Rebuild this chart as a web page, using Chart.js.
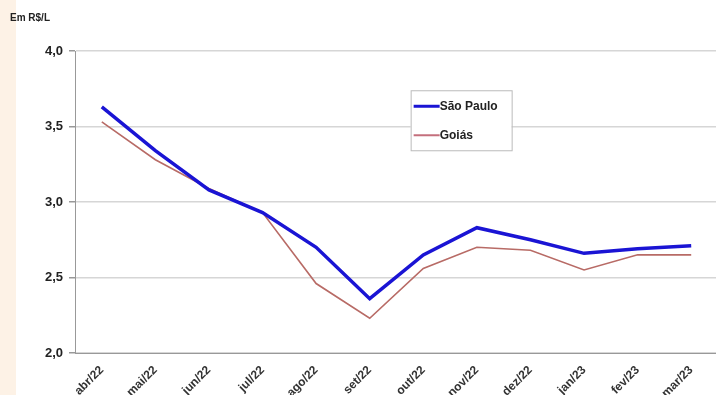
<!DOCTYPE html>
<html>
<head>
<meta charset="utf-8">
<script src="https://cdn.jsdelivr.net/npm/chart.js@4.4.0/dist/chart.umd.min.js"></script>
<style>
  html, body { margin: 0; padding: 0; background: #fff; overflow: hidden; }
  #wrap { position: relative; width: 722px; height: 425px; background: linear-gradient(to right, #fdf2e6 0px, #fdf2e6 16px, #ffffff 16px); }
  #unit { position: absolute; left: 10px; top: 12px; font: bold 10px "Liberation Sans", Arial, sans-serif; color: #222; }
</style>
</head>
<body>
<div id="wrap">
  <div id="unit">Em R$/L</div>
  <canvas id="lineChart" width="722" height="425"></canvas>
</div>
<script>
const months = ['abr/22', 'mai/22', 'jun/22', 'jul/22', 'ago/22', 'set/22', 'out/22', 'nov/22', 'dez/22', 'jan/23', 'fev/23', 'mar/23'];
const saoPaulo = [3.63, 3.34, 3.08, 2.93, 2.70, 2.36, 2.65, 2.83, 2.75, 2.66, 2.69, 2.71];
const goias = [3.53, 3.28, 3.09, 2.93, 2.46, 2.23, 2.56, 2.70, 2.68, 2.55, 2.65, 2.65];
const yTicks = [2.0, 2.5, 3.0, 3.5, 4.0];

// legend box drawn inside the plot area, like the original spreadsheet chart
const boxLegend = {
  id: 'boxLegend',
  afterDraw(chart) {
    const ctx = chart.ctx;
    const a = chart.chartArea;
    const x = a.left + (a.right - a.left) * 0.522;
    const y = a.top + (a.bottom - a.top) * 0.13;
    const w = 101, h = 60;
    ctx.save();
    ctx.fillStyle = '#fff';
    ctx.fillRect(x, y, w, h);
    ctx.strokeStyle = '#bbb';
    ctx.lineWidth = 1;
    ctx.strokeRect(x + 0.5, y + 0.5, w, h);
    ctx.font = 'bold 12px "Liberation Sans", Arial, sans-serif';
    ctx.fillStyle = '#222';
    ctx.textBaseline = 'middle';
    const legendColors = ['#1a14d4', '#c46f7c'];
    chart.data.datasets.forEach((ds, i) => {
      const ly = y + 16 + i * 29;
      ctx.strokeStyle = legendColors[i];
      ctx.lineWidth = i === 0 ? 3 : 2;
      ctx.beginPath();
      ctx.moveTo(x + 3, ly);
      ctx.lineTo(x + 29, ly);
      ctx.stroke();
      ctx.fillText(ds.label, x + 29, ly);
    });
    ctx.restore();
  }
};

const ctx = document.getElementById('lineChart').getContext('2d');
new Chart(ctx, {
  type: 'line',
  data: {
    labels: months,
    datasets: [{
      label: 'São Paulo',
      data: saoPaulo,
      borderColor: '#1a14d4',
      borderWidth: 3.5,
      pointRadius: 0,
      tension: 0
    }, {
      label: 'Goiás',
      data: goias,
      borderColor: '#b86b66',
      borderWidth: 1.6,
      pointRadius: 0,
      tension: 0
    }]
  },
  options: {
    responsive: false,
    animation: false,
    layout: { padding: { left: 0, right: 4, top: 51, bottom: 0 } },
    plugins: {
      legend: { display: false },
      tooltip: { enabled: false }
    },
    scales: {
      x: {
        offset: true,
        grid: { display: false, drawTicks: true },
        border: { color: '#999', width: 1 },
        ticks: {
          color: '#333',
          padding: 2,
          font: { family: '"Liberation Sans", Arial, sans-serif', size: 12, weight: 'bold' },
          minRotation: 45,
          maxRotation: 45,
          autoSkip: false
        },
        afterFit(scale) { scale.height = 72; }
      },
      y: {
        min: 2.0,
        max: 4.0,
        afterBuildTicks(scale) { scale.ticks = yTicks.map(v => ({ value: v })); },
        grid: { color: '#d6d6d6', lineWidth: 1.5, tickLength: 6, tickColor: '#999' },
        border: { color: '#999', width: 1 },
        ticks: {
          color: '#222',
          padding: 6,
          font: { family: '"Liberation Sans", Arial, sans-serif', size: 13, weight: 'bold' },
          callback: v => v.toFixed(1).replace('.', ',')
        },
        afterFit(scale) { scale.width = 75; }
      }
    }
  },
  plugins: [boxLegend]
});
</script>
</body>
</html>
